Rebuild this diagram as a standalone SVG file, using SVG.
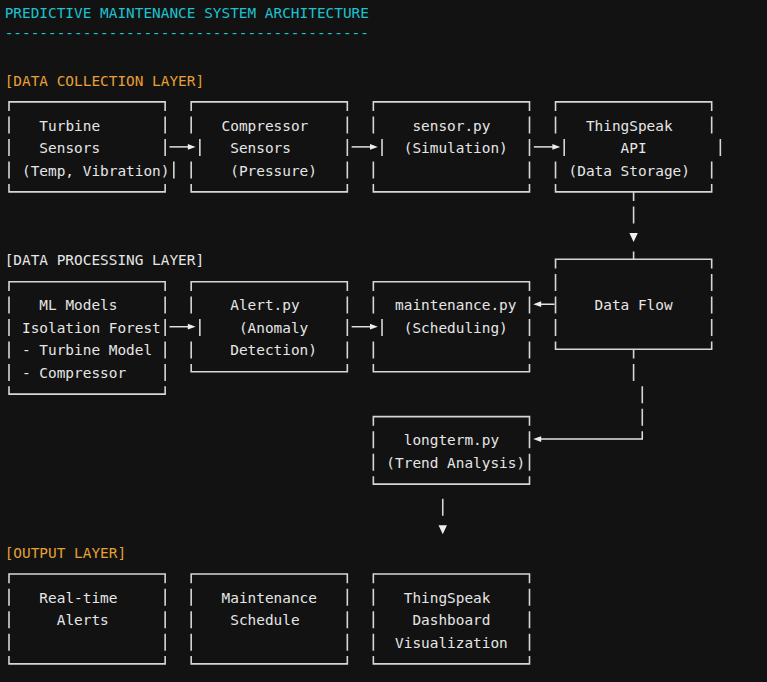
<svg xmlns="http://www.w3.org/2000/svg" width="767" height="682" viewBox="0 0 767 682">
<style>
.t{font-family:"DejaVu Sans Mono","Liberation Mono",monospace;font-size:14.41px;fill:#e6e6e6;white-space:pre}
.title{fill:#1cc3cf}
.layer{fill:#e6a035}
.box{fill:none;stroke:#d6d6d6;stroke-width:1.6}
.conn{fill:none;stroke:#e2e2e2;stroke-width:1.5}
.head{fill:#eeeeee}
</style>
<rect width="767" height="682" fill="#121212"/>
<g transform="translate(0,0.4)">
<text class="t title" x="4.66" y="17.8">PREDICTIVE MAINTENANCE SYSTEM ARCHITECTURE</text>
<text class="t title" x="4.66" y="37.6">------------------------------------------</text>
<text class="t layer" x="4.66" y="85.24">[DATA COLLECTION LAYER]</text>
<text class="t" x="4.66" y="265.08">[DATA PROCESSING LAYER]</text>
<text class="t layer" x="4.66" y="557.32">[OUTPUT LAYER]</text>

<g id="turbine-sensors">
<path class="box" d="M9 110.72V101.52H165.15V110.72M9 183.64V191.44H165.15V183.64M9 116.2V133.2M9 138.68V155.68M9 161.16V178.16M165.15 116.2V133.2M165.15 138.68V155.68M173.83 161.16V178.16"/>
<text class="t" x="39.36" y="130.2">Turbine</text>
<text class="t" x="39.36" y="152.68">Sensors</text>
<text class="t" x="22.01" y="175.16">(Temp, Vibration)</text>
</g>
<g id="compressor-sensors">
<path class="box" d="M191.18 110.72V101.52H347.33V110.72M191.18 183.64V191.44H347.33V183.64M191.18 116.2V133.2M199.85 138.68V155.68M191.18 161.16V178.16M347.33 116.2V133.2M347.33 138.68V155.68M347.33 161.16V178.16"/>
<text class="t" x="221.54" y="130.2">Compressor</text>
<text class="t" x="230.21" y="152.68">Sensors</text>
<text class="t" x="230.21" y="175.16">(Pressure)</text>
</g>
<g id="sensor-py">
<path class="box" d="M373.35 110.72V101.52H529.5V110.72M373.35 183.64V191.44H529.5V183.64M373.35 116.2V133.2M382.03 138.68V155.68M373.35 161.16V178.16M529.5 116.2V133.2M529.5 138.68V155.68M529.5 161.16V178.16"/>
<text class="t" x="412.39" y="130.2">sensor.py</text>
<text class="t" x="403.71" y="152.68">(Simulation)</text>
</g>
<g id="thingspeak-api">
<path class="box" d="M555.53 110.72V101.52H711.68V110.72M555.53 183.64V191.44H711.68V183.64M555.53 116.2V133.2M564.2 138.68V155.68M555.53 161.16V178.16M711.68 116.2V133.2M720.35 138.68V155.68M711.68 161.16V178.16"/>
<text class="t" x="585.89" y="130.2">ThingSpeak</text>
<text class="t" x="620.59" y="152.68">API</text>
<text class="t" x="568.54" y="175.16">(Data Storage)</text>
</g>

<g id="ml-models">
<path class="box" d="M9 290.56V281.36H165.15V290.56M9 385.96V393.76H165.15V385.96M9 296.04V313.04M9 318.52V335.52M9 341V358M9 363.48V380.48M165.15 296.04V313.04M165.15 318.52V335.52M165.15 341V358M165.15 363.48V380.48"/>
<text class="t" x="39.36" y="310.04">ML Models</text>
<text class="t" x="22.01" y="332.52">Isolation Forest</text>
<text class="t" x="22.01" y="355">- Turbine Model</text>
<text class="t" x="22.01" y="377.48">- Compressor</text>
</g>
<g id="alert-py">
<path class="box" d="M191.18 290.56V281.36H347.33V290.56M191.18 363.48V371.28H347.33V363.48M191.18 296.04V313.04M199.85 318.52V335.52M191.18 341V358M347.33 296.04V313.04M347.33 318.52V335.52M347.33 341V358"/>
<text class="t" x="230.21" y="310.04">Alert.py</text>
<text class="t" x="238.89" y="332.52">(Anomaly</text>
<text class="t" x="230.21" y="355">Detection)</text>
</g>
<g id="maintenance-py">
<path class="box" d="M373.35 290.56V281.36H529.5V290.56M373.35 363.48V371.28H529.5V363.48M373.35 296.04V313.04M382.03 318.52V335.52M373.35 341V358M529.5 296.04V313.04M529.5 318.52V335.52M529.5 341V358"/>
<text class="t" x="395.04" y="310.04">maintenance.py</text>
<text class="t" x="403.71" y="332.52">(Scheduling)</text>
</g>
<g id="data-flow">
<path class="box" d="M555.53 268.08V258.88H711.68V268.08M555.53 341V348.8H711.68V341M555.53 273.56V290.56M555.53 296.04V313.04M555.53 318.52V335.52M711.68 273.56V290.56M711.68 296.04V313.04M711.68 318.52V335.52"/>
<text class="t" x="594.56" y="310.04">Data Flow</text>
</g>
<g id="longterm-py">
<path class="box" d="M373.35 425.44V416.24H529.5V425.44M373.35 475.88V483.68H529.5V475.88M373.35 430.92V447.92M373.35 453.4V470.4M529.5 430.92V447.92M529.5 453.4V470.4"/>
<text class="t" x="403.71" y="444.92">longterm.py</text>
<text class="t" x="386.36" y="467.4">(Trend Analysis)</text>
</g>

<g id="realtime-alerts">
<path class="box" d="M9 582.8V573.6H165.15V582.8M9 655.72V663.52H165.15V655.72M9 588.28V605.28M9 610.76V627.76M9 633.24V650.24M165.15 588.28V605.28M165.15 610.76V627.76M165.15 633.24V650.24"/>
<text class="t" x="39.36" y="602.28">Real-time</text>
<text class="t" x="56.71" y="624.76">Alerts</text>
</g>
<g id="maintenance-schedule">
<path class="box" d="M191.18 582.8V573.6H347.33V582.8M191.18 655.72V663.52H347.33V655.72M191.18 588.28V605.28M191.18 610.76V627.76M191.18 633.24V650.24M347.33 588.28V605.28M347.33 610.76V627.76M347.33 633.24V650.24"/>
<text class="t" x="221.54" y="602.28">Maintenance</text>
<text class="t" x="230.21" y="624.76">Schedule</text>
</g>
<g id="thingspeak-dashboard">
<path class="box" d="M373.35 582.8V573.6H529.5V582.8M373.35 655.72V663.52H529.5V655.72M373.35 588.28V605.28M373.35 610.76V627.76M373.35 633.24V650.24M529.5 588.28V605.28M529.5 610.76V627.76M529.5 633.24V650.24"/>
<text class="t" x="403.71" y="602.28">ThingSpeak</text>
<text class="t" x="412.39" y="624.76">Dashboard</text>
<text class="t" x="395.04" y="647.24">Visualization</text>
</g>

<g id="connectors">
<path class="conn" d="M169.49 146.48H188.5"/>
<polygon class="head" points="187.8,143.6 195.6,146.48 187.8,149.36"/>
<path class="conn" d="M351.66 146.48H370.7"/>
<polygon class="head" points="370,143.6 377.8,146.48 370,149.36"/>
<path class="conn" d="M533.84 146.48H553"/>
<polygon class="head" points="552.4,143.6 560.2,146.48 552.4,149.36"/>
<path class="box" d="M633.6 191.44V200.64M633.6 206.12V223.12M633.6 251.08V258.88"/>
<polygon class="head" points="629.4,232.7 637.8,232.7 633.6,241.7"/>
<path class="conn" d="M169.49 326.32H188.5"/>
<polygon class="head" points="187.8,323.44 195.6,326.32 187.8,329.2"/>
<path class="conn" d="M351.66 326.32H370.7"/>
<polygon class="head" points="370,323.44 377.8,326.32 370,329.2"/>
<path class="conn" d="M540.5 303.84H554.5"/>
<polygon class="head" points="541.2,300.96 533.2,303.84 541.2,306.72"/>
<path class="box" d="M633.6 348.8V358M633.6 363.48V380.48M642.28 385.96V402.96M642.28 408.44V425.44"/>
<path class="conn" d="M642.28 430.92V438.72H540.5"/>
<polygon class="head" points="541.2,435.84 533.2,438.72 541.2,441.6"/>
<path class="box" d="M442.75 498.36V515.36"/>
<polygon class="head" points="438.55,524.94 446.95,524.94 442.75,533.94"/>
</g>
</g>
</svg>
